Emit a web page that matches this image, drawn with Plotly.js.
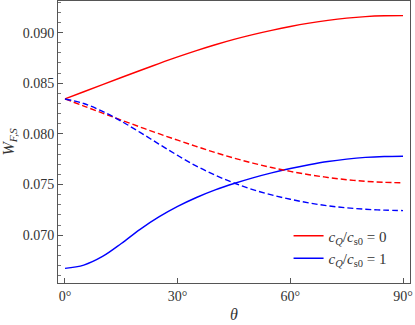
<!DOCTYPE html>
<html>
<head>
<meta charset="utf-8">
<script src="https://cdn.plot.ly/plotly-3.0.1.min.js"></script>
<style>
  html, body { margin: 0; padding: 0; background: #fff; }
  #chart { width: 415px; height: 325px; }
</style>
</head>
<body>
<div id="chart"></div>
<script>
// theta in degrees
const theta = [0, 5, 10, 15, 20, 25, 30, 35, 40, 45, 50, 55, 60, 65, 70, 75, 80, 85, 90];

// cQ/cs0 = 0 (red)
const redSolid  = [0.08345, 0.08416, 0.08487, 0.08557, 0.08626, 0.08694, 0.08760, 0.08822, 0.08880, 0.08933,
                   0.08980, 0.09022, 0.09060, 0.09093, 0.09121, 0.09143, 0.09158, 0.09166, 0.09168];
const redDashed = [0.08345, 0.08275, 0.08205, 0.08136, 0.08068, 0.08002, 0.07938, 0.07876, 0.07816, 0.07761,
                   0.07712, 0.07668, 0.07630, 0.07597, 0.07570, 0.07548, 0.07532, 0.07522, 0.07518];

// cQ/cs0 = 1 (blue)
const blueSolid  = [0.06672, 0.06705, 0.06790, 0.06918, 0.07058, 0.07180, 0.07284, 0.07372, 0.07447, 0.07510,
                    0.07566, 0.07615, 0.07658, 0.07695, 0.07727, 0.07751, 0.07768, 0.07777, 0.07780];
const blueDashed = [0.08345, 0.08300, 0.08222, 0.08125, 0.08015, 0.07900, 0.07787, 0.07682, 0.07592, 0.07515,
                    0.07450, 0.07398, 0.07355, 0.07318, 0.07290, 0.07270, 0.07256, 0.07247, 0.07243];

const xTicks = [0, 30, 60, 90];
const xTickText = ['0°', '30°', '60°', '90°'];
const legendNames = [
    '<i>c</i><sub><i>Q</i></sub>/<i>c</i><sub>s0</sub> = 0',
    '<i>c</i><sub><i>Q</i></sub>/<i>c</i><sub>s0</sub> = 1',
];

const RED = '#ff0000';
const BLUE = '#0000ff';
const serif = 'Liberation Serif, DejaVu Serif, serif';
const tickFont = { family: serif, size: 14, color: '#333' };

const traces = [
    { x: theta, y: redSolid, name: legendNames[0], mode: 'lines',
      line: { color: RED, width: 1.4, shape: 'spline' } },
    { x: theta, y: blueSolid, name: legendNames[1], mode: 'lines',
      line: { color: BLUE, width: 1.4, shape: 'spline' } },
    { x: theta, y: redDashed, mode: 'lines', showlegend: false,
      line: { color: RED, width: 1.4, dash: '6px,3px', shape: 'spline' } },
    { x: theta, y: blueDashed, mode: 'lines', showlegend: false,
      line: { color: BLUE, width: 1.4, dash: '6px,3px', shape: 'spline' } },
];

const layout = {
    width: 415,
    height: 325,
    margin: { l: 58, r: 5, t: 1, b: 42 },
    paper_bgcolor: '#fff',
    plot_bgcolor: '#fff',
    font: { family: serif, size: 14, color: '#333' },
    showlegend: true,
    legend: {
        x: 0.655, y: 0.225, xanchor: 'left', yanchor: 'top',
        bgcolor: 'rgba(0,0,0,0)',
        font: { family: serif, size: 15, color: '#333' },
        itemwidth: 30,
        tracegroupgap: 0,
    },
    xaxis: {
        range: [-1.86, 91.86],
        tickmode: 'array',
        tickvals: xTicks,
        ticktext: xTickText,
        tickfont: tickFont,
        ticks: 'inside', ticklen: 5, tickcolor: '#555',
        showline: true, linecolor: '#555', linewidth: 1, mirror: true,
        showgrid: false, zeroline: false,
        title: { text: '<i>θ</i>', font: { family: serif, size: 16, color: '#333' }, standoff: 6 },
    },
    yaxis: {
        range: [0.06528, 0.09312],
        dtick: 0.005,
        tick0: 0.07,
        tickformat: '.3f',
        tickfont: tickFont,
        ticks: 'inside', ticklen: 5, tickcolor: '#555',
        minor: { dtick: 0.001, ticks: 'inside', ticklen: 3, tickcolor: '#777' },
        showline: true, linecolor: '#555', linewidth: 1, mirror: true,
        showgrid: false, zeroline: false,
        title: { text: '<i>W</i><sub><i>F,S</i></sub>', font: { family: serif, size: 16, color: '#333' }, standoff: 4 },
    },
};

Plotly.newPlot('chart', traces, layout, { displayModeBar: false, responsive: false });
</script>
</body>
</html>
